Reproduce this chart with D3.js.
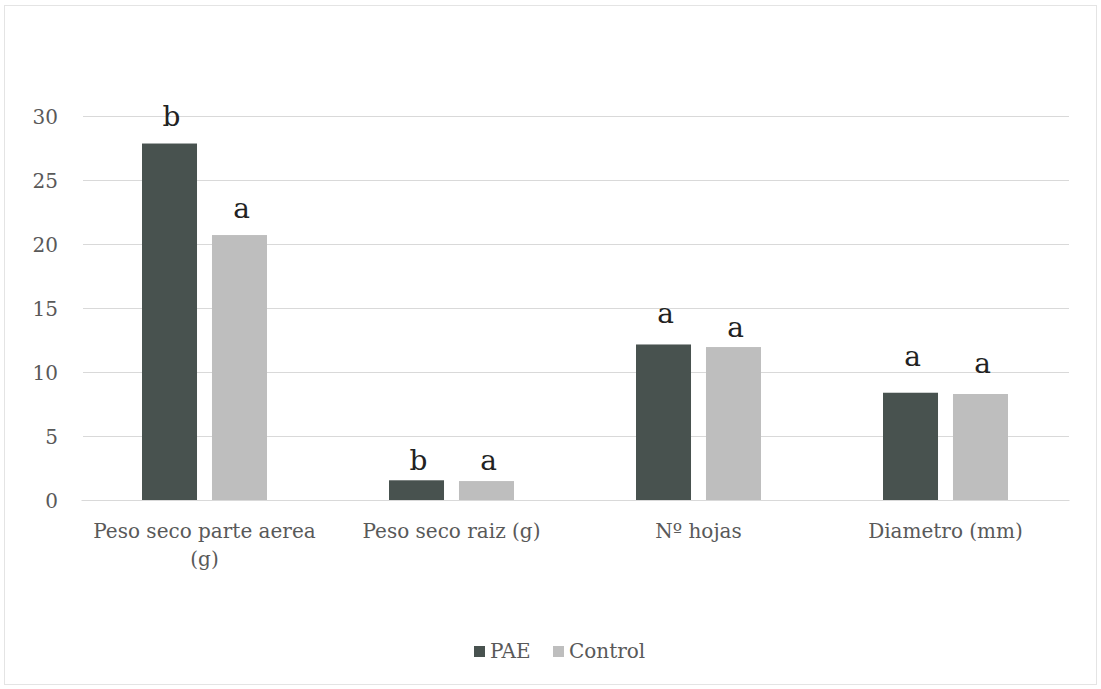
<!DOCTYPE html>
<html><head><meta charset="utf-8">
<script src="https://cdn.jsdelivr.net/npm/d3@7"></script>
<style>
body{margin:0;background:#fff;}
text{font-family:"DejaVu Serif","Liberation Serif",serif;}
</style></head>
<body><svg id="c" width="1101" height="689"></svg>
<script>
const categories = [["Peso seco parte aerea", "(g)"], ["Peso seco raiz (g)"], ["Nº hojas"], ["Diametro (mm)"]];
const seriesNames = ["PAE", "Control"];
const paeValues = [27.85, 1.54, 12.15, 8.38];
const controlValues = [20.7, 1.48, 11.95, 8.28];
const paeLetters = ["b", "b", "a", "a"];
const controlLetters = ["a", "a", "a", "a"];
const paeLetterAt = [29.2, 2.35, 13.8, 10.45];
const controlLetterAt = [22.05, 2.35, 12.75, 9.9];
const yTicks = [0, 5, 10, 15, 20, 25, 30];
const colors = ["#48524f", "#bebebe"];

const svg = d3.select("#c");
svg.append("rect").attr("x",4.5).attr("y",5.5).attr("width",1092).attr("height",679)
  .attr("fill","#fff").attr("stroke","#e4e4e4");

const catKeys = categories.map((d,i)=>i);
const x0 = d3.scaleBand().domain(catKeys).range([81,1069]).paddingInner(0.494).paddingOuter(0.247);
const x1 = d3.scaleBand().domain(seriesNames).range([0, x0.bandwidth()]).paddingInner(0.214).paddingOuter(0);
const y = d3.scaleLinear().domain([0,30]).range([500,116]);

const grid = svg.append("g")
  .call(d3.axisLeft(y).tickValues(yTicks).tickSize(-(1069-83)).tickFormat(d3.format("d")).tickPadding(25))
  .attr("transform","translate(83,0)");
grid.select(".domain").remove();
grid.selectAll(".tick line").attr("stroke","#d9d9d9").attr("stroke-width",1);
grid.selectAll(".tick text").attr("fill","#595959").attr("font-size",20).attr("dy","0.35em")
  .style("font-family","'DejaVu Serif',serif");

const data = catKeys.map(i=>({i, vals:[
  {s:"PAE", v:paeValues[i], l:paeLetters[i], la:paeLetterAt[i]},
  {s:"Control", v:controlValues[i], l:controlLetters[i], la:controlLetterAt[i]}]}));

const g = svg.selectAll("g.grp").data(data).join("g").attr("class","grp")
  .attr("transform", d=>`translate(${x0(d.i)},0)`);
g.selectAll("rect").data(d=>d.vals).join("rect")
  .attr("x", d=>x1(d.s)).attr("width", x1.bandwidth())
  .attr("y", d=>y(d.v)).attr("height", d=>y(0)-y(d.v))
  .attr("fill", (d,j)=>colors[j]);
g.selectAll("text.lt").data(d=>d.vals).join("text").attr("class","lt")
  .attr("x", d=>x1(d.s)+x1.bandwidth()/2+2).attr("y", d=>y(d.la))
  .attr("text-anchor","middle").attr("font-size",28).attr("fill","#222")
  .text(d=>d.l);

// category labels
const xa = svg.append("g").attr("transform","translate(0,500)")
  .call(d3.axisBottom(x0).tickSize(0).tickFormat(()=>""));
xa.select(".domain").attr("stroke","#d9d9d9");
categories.forEach((lines,i)=>{
  const t = svg.append("text").attr("x", x0(i)+x0.bandwidth()/2).attr("y",538)
    .attr("text-anchor","middle").attr("font-size",20).attr("fill","#595959");
  lines.forEach((ln,k)=>t.append("tspan").attr("x", x0(i)+x0.bandwidth()/2).attr("dy", k?28:0).text(ln));
});

// legend
const legX = d3.scaleOrdinal().domain(seriesNames).range([474,553]);
const lg = svg.append("g").selectAll("g").data(seriesNames).join("g")
  .attr("transform", d=>`translate(${legX(d)},646)`);
lg.append("rect").attr("width",11).attr("height",11).attr("fill",(d,i)=>colors[i]);
lg.append("text").attr("x",16).attr("y",12).attr("font-size",20).attr("fill","#595959").text(d=>d);
</script></body></html>
